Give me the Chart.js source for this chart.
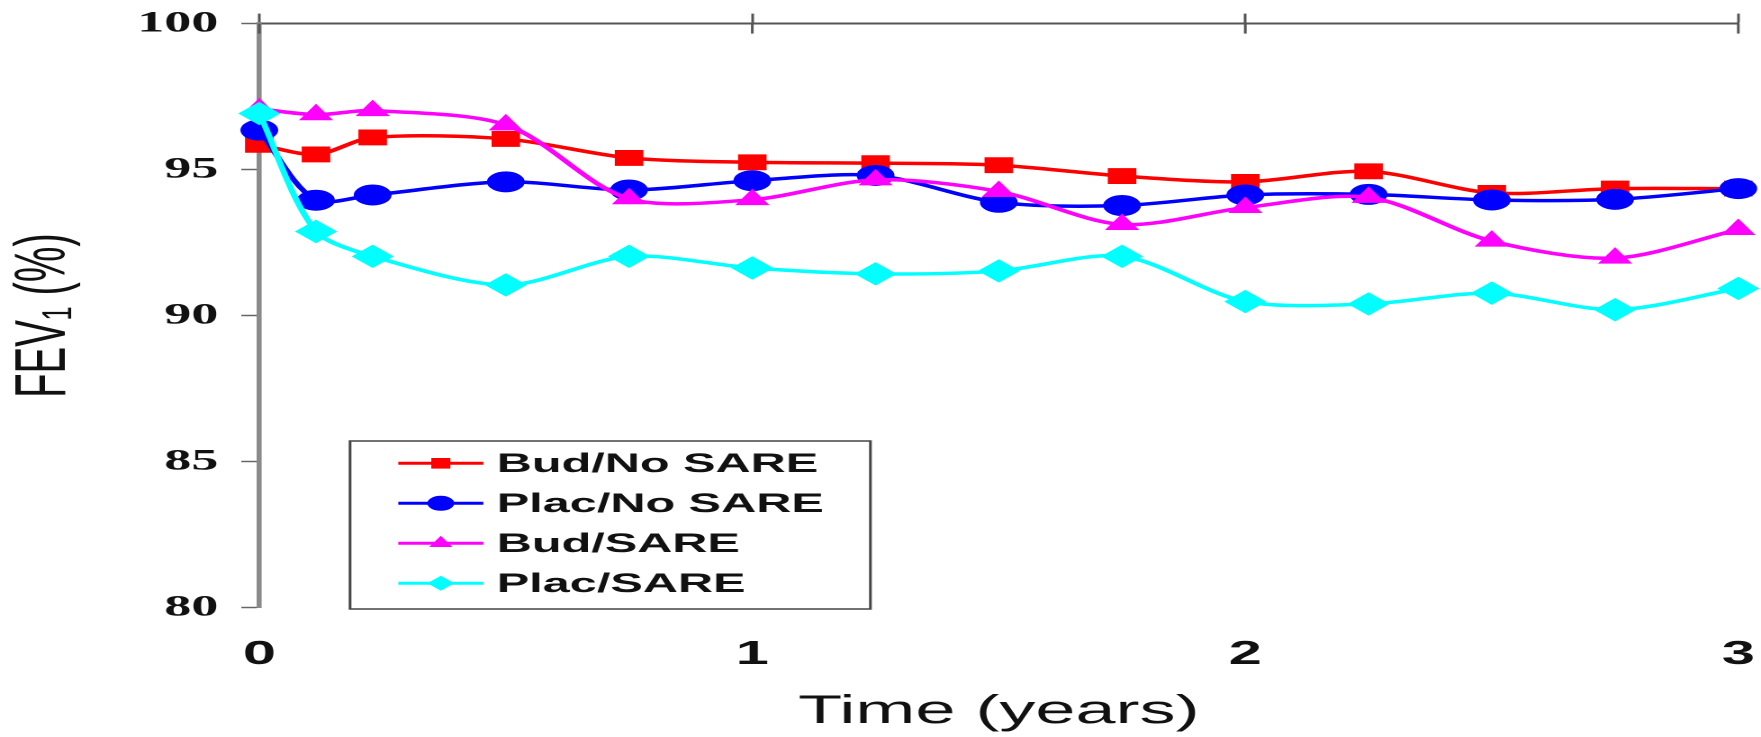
<!DOCTYPE html>
<html>
<head>
<meta charset="utf-8">
<script src="https://cdn.jsdelivr.net/npm/chart.js@4.4.0/dist/chart.umd.min.js"></script>
<style>
html, body { margin: 0; padding: 0; background: #fff; overflow: hidden; }
/* the source picture is stretched sideways, so the chart is drawn narrow and widened */
#wrap { width: 978px; height: 737px; transform: scaleX(1.8006); transform-origin: 0 0; }
</style>
</head>
<body>
<div id="wrap"><canvas id="fevChart" width="978" height="737"></canvas></div>
<script>
// visits: baseline, 6 wk, 12 wk, then every 3 months
const timeYears = [0, 0.115, 0.23, 0.5, 0.75, 1, 1.25, 1.5, 1.75, 2, 2.25, 2.5, 2.75, 3];
const yearTicks = [0, 1, 2, 3];

const budNoSare  = [95.85, 95.52, 96.1, 96.05, 95.4, 95.25, 95.22, 95.15, 94.78, 94.58, 94.94, 94.2, 94.35, 94.35];
const placNoSare = [96.35, 93.95, 94.13, 94.58, 94.3, 94.62, 94.8, 93.88, 93.77, 94.13, 94.15, 93.96, 93.98, 94.35];
const budSare    = [97.08, 96.88, 97.02, 96.53, 94.0, 93.97, 94.65, 94.25, 93.12, 93.7, 94.05, 92.55, 91.97, 92.95];
const placSare   = [96.92, 92.88, 92.03, 91.05, 92.03, 91.63, 91.43, 91.53, 92.03, 90.48, 90.4, 90.77, 90.2, 90.93];

const seriesNames = ['Bud/No SARE', 'Plac/No SARE', 'Bud/SARE', 'Plac/SARE'];

const toPoints = (values) => values.map((v, i) => ({ x: timeYears[i], y: v }));

const makeSet = (label, values, color, style, radius, order) => ({
    label: label,
    data: toPoints(values),
    borderColor: color,
    backgroundColor: color,
    borderWidth: 3.5,
    tension: 0.3,
    pointStyle: style,
    pointRadius: radius,
    pointBorderWidth: 1,
    order: order,
    clip: false
});

// crossing tick marks on the top line + the boxed legend
const frameBits = {
    id: 'frameBits',
    afterDraw(chart) {
        const { ctx, chartArea, scales } = chart;
        ctx.save();
        ctx.strokeStyle = '#555';
        ctx.lineWidth = 1.5;
        yearTicks.forEach(t => {
            const px = scales.x.getPixelForValue(t);
            ctx.beginPath();
            ctx.moveTo(px, chartArea.top);
            ctx.lineTo(px, chartArea.top + 10);
            ctx.stroke();
        });

        const left = chartArea.left + 50.4;
        const top = chartArea.top + 417.4;
        const w = 289;
        const h = chartArea.bottom + 1.4 - top;
        ctx.lineWidth = 1.5;
        ctx.strokeStyle = '#444';
        ctx.strokeRect(left, top, w, h);

        ctx.font = 'bold 27px "Liberation Sans", Arial, sans-serif';
        ctx.textBaseline = 'middle';
        ctx.textAlign = 'left';
        chart.data.datasets.forEach((ds, i) => {
            const y = top + 22.3 + i * 40;
            ctx.strokeStyle = ds.borderColor;
            ctx.lineWidth = 3;
            ctx.beginPath();
            ctx.moveTo(left + 26.8, y);
            ctx.lineTo(left + 74, y);
            ctx.stroke();
            ctx.fillStyle = ds.backgroundColor;
            Chart.helpers.drawPoint(ctx, { pointStyle: ds.pointStyle, radius: 7.5, rotation: 0, borderWidth: 0 }, left + 50.4, y);
            ctx.fillStyle = '#111';
            ctx.fillText(ds.label, left + 81.5, y + 1);
        });
        ctx.restore();
    }
};

const ctx = document.getElementById('fevChart');

new Chart(ctx, {
    type: 'line',
    data: {
        datasets: [
            makeSet(seriesNames[0], budNoSare, '#ff0000', 'rect', 10.5, 3),
            makeSet(seriesNames[1], placNoSare, '#0000ff', 'circle', 10, 2),
            makeSet(seriesNames[2], budSare, '#ff00ff', 'triangle', 10, 1),
            makeSet(seriesNames[3], placSare, '#00ffff', 'rectRot', 11, 0)
        ]
    },
    options: {
        responsive: false,
        animation: false,
        devicePixelRatio: 2,
        layout: { padding: { top: 23.6, right: 12.6, left: 0, bottom: 0 } },
        plugins: {
            legend: { display: false },
            tooltip: { enabled: false }
        },
        scales: {
            x: {
                type: 'linear',
                position: 'bottom',
                min: 0,
                max: 3,
                afterFit: (s) => { s.height = 129.4; },
                border: { display: false },
                // hidden tick marks give the label gap without widening the side padding
                grid: { display: false, drawTicks: true, tickLength: 27.6 },
                ticks: {
                    stepSize: 1,
                    padding: 0,
                    color: '#111',
                    font: { family: '"Liberation Sans", Arial, sans-serif', size: 33, weight: 'bold' }
                },
                title: {
                    display: true,
                    text: 'Time (years)',
                    color: '#111',
                    font: { family: '"Liberation Sans", Arial, sans-serif', size: 40 },
                    padding: { top: 0, bottom: 1 }
                }
            },
            xTop: {
                type: 'linear',
                position: 'top',
                min: 0,
                max: 3,
                afterFit: (s) => { s.height = 0; },
                border: { display: true, color: '#555', width: 2 },
                grid: { drawOnChartArea: false, drawTicks: true, tickLength: 10, tickWidth: 1.5, tickColor: '#555' },
                ticks: { display: false, stepSize: 1 }
            },
            y: {
                min: 80,
                max: 100,
                afterFit: (s) => { s.width = 144; },
                border: { display: true, color: '#8a8a8a', width: 2.8 },
                grid: { drawOnChartArea: false, drawTicks: true, tickLength: 10, tickWidth: 1.5, tickColor: '#666' },
                ticks: {
                    stepSize: 5,
                    padding: 12.8,
                    color: '#111',
                    font: { family: '"Liberation Serif", "Times New Roman", serif', size: 30, weight: 'bold', lineHeight: 0.7 }
                },
                title: {
                    display: true,
                    text: 'FEV₁ (%)',
                    color: '#111',
                    font: { family: '"Liberation Sans", Arial, sans-serif', size: 40 },
                    padding: { top: 1, bottom: 0 }
                }
            }
        }
    },
    plugins: [frameBits]
});
</script>
</body>
</html>
